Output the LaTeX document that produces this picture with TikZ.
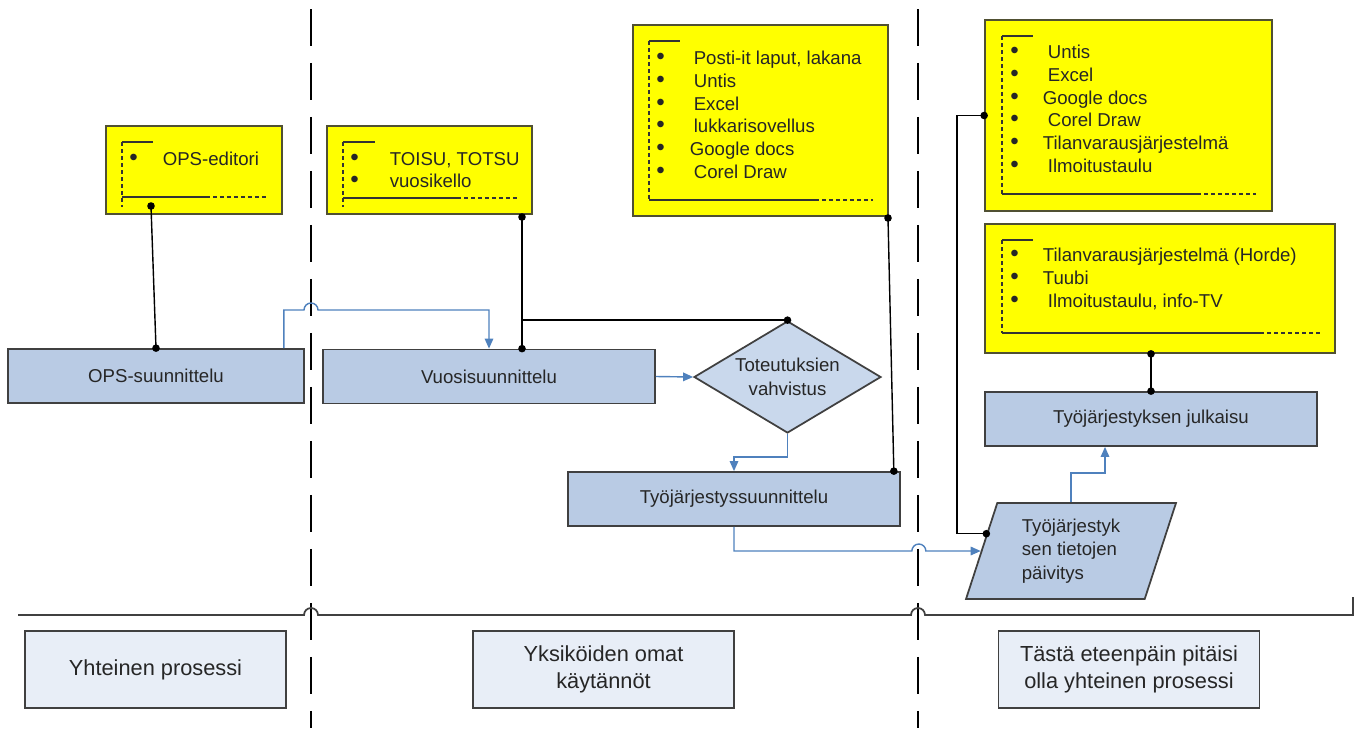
\documentclass[tikz,border=0pt]{standalone}
\usepackage{fontspec}
\setmainfont{Liberation Sans}
\usetikzlibrary{shapes.geometric,arrows.meta,calc}

\definecolor{boxblue}{RGB}{185,203,228}
\definecolor{diablue}{RGB}{201,216,236}
\definecolor{paleblue}{RGB}{232,238,247}
\definecolor{edgegray}{RGB}{64,64,64}
\definecolor{flowblue}{RGB}{79,129,189}
\definecolor{noteyellow}{RGB}{255,255,0}
\definecolor{noteedge}{RGB}{80,80,50}
\definecolor{inkgray}{RGB}{38,38,38}
\newcommand{\nbul}{\scalebox{1.3}{\textbullet}}

\begin{document}
\begin{tikzpicture}[x=0.02cm, y=0.02cm,
        procbox/.style={draw=edgegray, line width=1pt, fill=boxblue, minimum width=6.64cm,
                minimum height=1.08cm, text=inkgray, font=\fontsize{10.6}{13.5}\selectfont},
        decision/.style={diamond, draw=edgegray, line width=1pt, fill=diablue, aspect=1.67,
                minimum width=3.74cm, minimum height=2.24cm, align=center, text=inkgray,
                font=\fontsize{10.6}{13.6}\selectfont},
        inout/.style={trapezium, trapezium left angle=64, trapezium right angle=116,
                trapezium stretches body, draw=edgegray, line width=1pt, fill=boxblue,
                minimum width=4.2cm, minimum height=1.92cm, align=left, text=inkgray,
                font=\fontsize{10.6}{13.3}\selectfont},
        lanebox/.style={draw=edgegray, line width=0.9pt, fill=paleblue, minimum width=5.22cm,
                minimum height=1.54cm, align=center, text=inkgray,
                font=\fontsize{12.4}{15.3}\selectfont},
        notebox/.style={draw=noteedge, line width=1pt, fill=noteyellow},
        notelist/.style={anchor=west, text=inkgray, font=\fontsize{10.6}{12.9}\selectfont},
        brk/.style={draw=black!80, line width=0.7pt},
        brkdash/.style={brk, dash pattern=on 0.08cm off 0.06cm},
        link/.style={draw=black, line width=0.8pt},
        flow/.style={draw=flowblue, line width=0.8pt, -{Triangle[length=0.2cm,width=0.17cm]}},
        lane/.style={draw=black, line width=1.1pt, dash pattern=on 0.74cm off 0.34cm, dash phase=0.9cm},
        sepline/.style={draw=edgegray, line width=1pt}]
        \tikzstyle{every node}+=[inner sep=0pt]
        \useasboundingbox (0,0) rectangle (1363,-728);
        % lanes
        \draw [lane] (311,0) -- (311,-728);
        \draw [lane] (918,0) -- (918,-728);
        \draw [sepline] (18,-615) -- (304,-615) arc [start angle=180, end angle=0, radius=7]
                -- (911,-615) arc [start angle=180, end angle=0, radius=7] -- (1353,-615) -- (1353,-597);
        % notes
        \node [notebox, minimum width=3.52cm, minimum height=1.76cm] (y1) at (194,-170) {};
        \draw [brkdash] (122,-142) -- (122,-207);
        \draw [brk] (122,-142) -- (153,-142);
        \draw [brk] (122,-197) -- (206,-197);
        \draw [brkdash] (206,-197) -- (266,-197);
        \node [notelist] (y1list) at (129,-161) {\begin{tabular}{@{}l@{\hspace{0.5cm}}l@{}}
                \nbul & OPS-editori\end{tabular}};
        \node [notebox, minimum width=4.1cm, minimum height=1.76cm] (y2) at (429.5,-170) {};
        \draw [brkdash] (343,-142) -- (343,-207);
        \draw [brk] (343,-142) -- (375,-142);
        \draw [brk] (343,-198) -- (457,-198);
        \draw [brkdash] (457,-198) -- (517,-198);
        \node [notelist] (y2list) at (350,-172) {\begin{tabular}{@{}l@{\hspace{0.62cm}}l@{}}
                \nbul & TOISU, TOTSU\\ \nbul & vuosikello\end{tabular}};
        \node [notebox, minimum width=5.1cm, minimum height=3.82cm] (y3) at (760.5,-120.5) {};
        \draw [brkdash] (649,-41) -- (649,-200);
        \draw [brk] (649,-41) -- (680,-41);
        \draw [brk] (649,-200) -- (815,-200);
        \draw [brkdash] (815,-200) -- (873,-200);
        \node [notelist] (y3list) at (656,-117) {\begin{tabular}{@{}l@{\hspace{0.58cm}}l@{}}
                \nbul & Posti-it laput, lakana\\ \nbul & Untis\\ \nbul & Excel\\
                \nbul & lukkarisovellus\\ \nbul & \hspace*{-0.08cm}Google docs\\
                \nbul & Corel Draw\end{tabular}};
        \node [notebox, minimum width=5.74cm, minimum height=3.82cm] (y4) at (1128.5,-115.5) {};
        \draw [brkdash] (1002,-36) -- (1002,-194);
        \draw [brk] (1002,-36) -- (1033,-36);
        \draw [brk] (1002,-194) -- (1197,-194);
        \draw [brkdash] (1197,-194) -- (1256,-194);
        \node [notelist] (y4list) at (1010,-111) {\begin{tabular}{@{}l@{\hspace{0.58cm}}l@{}}
                \nbul & Untis\\ \nbul & Excel\\ \nbul & \hspace*{-0.1cm}Google docs\\
                \nbul & Corel Draw\\ \nbul & \hspace*{-0.1cm}Tilanvarausjärjestelmä\\
                \nbul & Ilmoitustaulu\end{tabular}};
        \node [notebox, minimum width=7cm, minimum height=2.58cm] (y5) at (1160,-288.5) {};
        \draw [brkdash] (1002,-240) -- (1002,-333);
        \draw [brk] (1002,-240) -- (1033,-240);
        \draw [brk] (1002,-333) -- (1260,-333);
        \draw [brkdash] (1260,-333) -- (1320,-333);
        \node [notelist] (y5list) at (1010,-280) {\begin{tabular}{@{}l@{\hspace{0.48cm}}l@{}}
                \nbul & Tilanvarausjärjestelmä (Horde)\\ \nbul & Tuubi\\
                \nbul & \hspace*{0.1cm}Ilmoitustaulu, info-TV\end{tabular}};
        % process steps
        \node [procbox, minimum width=5.92cm] (ops) at (156,-376) {OPS-suunnittelu};
        \node [procbox] (vuosi) at (489,-376.5) {Vuosisuunnittelu};
        \node [decision] (tote) at (787.5,-377) {Toteutuksien\\vahvistus};
        \node [procbox] (tyo) at (734,-499) {Työjärjestyssuunnittelu};
        \node [procbox] (julk) at (1151,-419) {Työjärjestyksen julkaisu};
        \node [inout] (paiv) at (1071,-551) {Työjärjestyk\\sen tietojen\\päivitys};
        % bottom labels
        \node [lanebox] (yht) at (155.5,-669.5) {Yhteinen prosessi};
        \node [lanebox] (omat) at (603.5,-669.5) {Yksiköiden omat\\käytännöt};
        \node [lanebox] (jatko) at (1129,-669.5) {Tästä eteenpäin pitäisi\\olla yhteinen prosessi};
        % tools to steps
        \coordinate (y1dot) at (151,-206);
        \draw [link] (y1dot) -- (ops.north);
        \fill (y1dot) circle (3.8);
        \fill (ops.north) circle (3.8);
        \coordinate (y2dot) at (522,-217);
        \draw [link] (y2dot) -- (y2dot |- vuosi.north);
        \draw [link] (y2dot |- tote.north) -- (tote.north);
        \fill (y2dot) circle (3.8);
        \fill (y2dot |- vuosi.north) circle (3.8);
        \fill (tote.north) circle (3.8);
        \coordinate (y3dot) at (888,-218);
        \coordinate (tyodot) at ($(tyo.north east)+(-7,0)$);
        \draw [link] (y3dot) -- (tyodot);
        \fill (y3dot) circle (3.8);
        \fill (tyodot) circle (3.8);
        \coordinate (paivdot) at ($(paiv.top left corner)!0.323!(paiv.bottom left corner)$);
        \draw [link] (y4.west) -- ++(-27,0) |- (paivdot);
        \fill (y4.west) circle (3.8);
        \fill (paivdot) circle (3.8);
        \draw [link] (julk.north |- y5.south) -- (julk.north);
        \fill (julk.north |- y5.south) circle (3.8);
        \fill (julk.north) circle (3.8);
        % flow
        \coordinate (jmpA) at (311,-310);
        \draw [flow] ($(ops.north east)+(-21,0)$) |- ($(jmpA)+(-7,0)$)
                arc [start angle=180, end angle=0, radius=7] -| (vuosi.north);
        \draw [flow] (vuosi.east) -- (tote.west);
        \draw [flow] (tote.south) -- ++(0,-23) -| (tyo.north);
        \coordinate (jmpB) at ($(paiv.west -| tyo.east)+(18,0)$);
        \draw [flow] (tyo.south) |- ($(jmpB)+(-7,0)$)
                arc [start angle=180, end angle=0, radius=7] -- (paiv.west);
        \draw [flow] (paiv.north) |- ($(julk.south)+(-46,-26)$) -- ($(julk.south)+(-46,0)$);
\end{tikzpicture}
\end{document}
